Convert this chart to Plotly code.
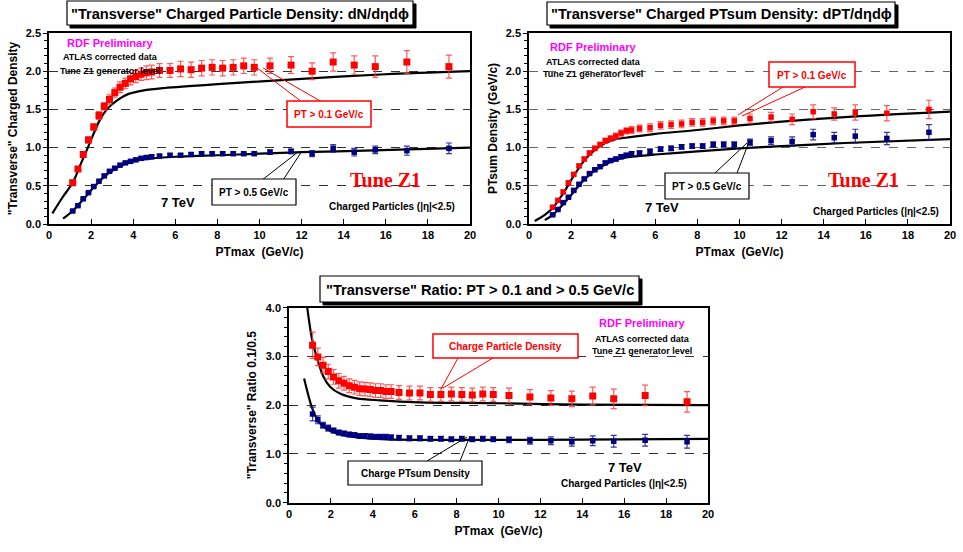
import plotly.graph_objects as go

# ---------------- DATA ----------------
pt_bins = [1.125, 1.375, 1.625, 1.875, 2.125, 2.375, 2.625, 2.875, 3.125, 3.375,
           3.625, 3.875, 4.125, 4.375, 4.625, 4.875,
           5.25, 5.75, 6.25, 6.75, 7.25, 7.75, 8.25, 8.75, 9.25, 9.75,
           10.5, 11.5, 12.5, 13.5, 14.5, 15.5, 17.0, 19.0]

# dN/deta dphi, PT > 0.1
dens01 = [0.54, 0.72, 0.91, 1.10, 1.27, 1.42, 1.54, 1.63, 1.72, 1.79,
          1.84, 1.90, 1.93, 1.96, 1.98, 1.99,
          2.01, 2.01, 2.03, 2.02, 2.04, 2.05, 2.04, 2.05, 2.07, 2.05,
          2.07, 2.08, 2.00, 2.12, 2.08, 2.06, 2.12, 2.06]
dens01_err = [0.03, 0.03, 0.03, 0.04, 0.04, 0.05, 0.05, 0.06, 0.06, 0.07,
              0.07, 0.08, 0.08, 0.08, 0.09, 0.09,
              0.09, 0.09, 0.10, 0.10, 0.10, 0.10, 0.10, 0.10, 0.10, 0.10,
              0.10, 0.11, 0.11, 0.12, 0.12, 0.14, 0.15, 0.15]
# PT > 0.5
dens05 = [0.17, 0.24, 0.33, 0.41, 0.49, 0.56, 0.63, 0.69, 0.73, 0.77,
          0.80, 0.82, 0.84, 0.86, 0.87, 0.88,
          0.89, 0.90, 0.90, 0.91, 0.92, 0.92, 0.92, 0.92, 0.92, 0.92,
          0.94, 0.95, 0.92, 0.99, 0.94, 0.97, 0.96, 0.99]
dens05_err = [0.01, 0.01, 0.01, 0.01, 0.01, 0.01, 0.015, 0.015, 0.015, 0.015,
              0.015, 0.015, 0.02, 0.02, 0.02, 0.02,
              0.02, 0.02, 0.02, 0.02, 0.02, 0.02, 0.02, 0.02, 0.02, 0.02,
              0.03, 0.03, 0.04, 0.05, 0.05, 0.05, 0.06, 0.07]

# dPT/deta dphi, PT > 0.1
ptsum01 = [0.22, 0.31, 0.42, 0.54, 0.65, 0.76, 0.85, 0.93, 0.99, 1.04,
           1.09, 1.12, 1.15, 1.19, 1.22, 1.23,
           1.25, 1.26, 1.29, 1.30, 1.31, 1.33, 1.33, 1.35, 1.35, 1.35,
           1.38, 1.40, 1.37, 1.47, 1.44, 1.46, 1.45, 1.50]
ptsum01_err = [0.01, 0.01, 0.015, 0.015, 0.02, 0.02, 0.025, 0.025, 0.03, 0.03,
               0.035, 0.035, 0.04, 0.04, 0.04, 0.045,
               0.045, 0.05, 0.05, 0.05, 0.05, 0.05, 0.05, 0.05, 0.05, 0.05,
               0.06, 0.06, 0.07, 0.09, 0.08, 0.10, 0.10, 0.12]
# PT > 0.5
ptsum05 = [0.12, 0.19, 0.28, 0.35, 0.44, 0.52, 0.59, 0.66, 0.71, 0.75,
           0.80, 0.83, 0.85, 0.88, 0.90, 0.92,
           0.93, 0.95, 0.98, 0.99, 1.01, 1.02, 1.02, 1.04, 1.04, 1.04,
           1.07, 1.09, 1.08, 1.17, 1.13, 1.15, 1.12, 1.20]
ptsum05_err = [0.01, 0.01, 0.01, 0.01, 0.015, 0.015, 0.02, 0.02, 0.02, 0.02,
               0.02, 0.02, 0.025, 0.025, 0.025, 0.025,
               0.025, 0.03, 0.03, 0.03, 0.03, 0.03, 0.03, 0.035, 0.035, 0.035,
               0.04, 0.05, 0.06, 0.07, 0.07, 0.09, 0.08, 0.10]

# ratio PT>0.1 / PT>0.5
ratio_dens = [3.23, 2.99, 2.82, 2.69, 2.58, 2.50, 2.45, 2.40, 2.37, 2.34,
              2.33, 2.32, 2.30, 2.30, 2.28, 2.28,
              2.26, 2.25, 2.25, 2.22, 2.22, 2.23, 2.22, 2.21, 2.23, 2.22,
              2.20, 2.17, 2.15, 2.13, 2.19, 2.13, 2.20, 2.07]
ratio_dens_err = [0.27, 0.18, 0.16, 0.15, 0.15, 0.15, 0.14, 0.14, 0.14, 0.14,
                  0.14, 0.14, 0.14, 0.14, 0.14, 0.14,
                  0.14, 0.14, 0.14, 0.14, 0.14, 0.14, 0.14, 0.14, 0.14, 0.14,
                  0.15, 0.15, 0.15, 0.16, 0.18, 0.20, 0.21, 0.21]
ratio_ptsum = [1.82, 1.70, 1.59, 1.53, 1.48, 1.44, 1.42, 1.40, 1.39, 1.37,
               1.37, 1.36, 1.35, 1.35, 1.35, 1.34,
               1.33, 1.32, 1.32, 1.31, 1.31, 1.30, 1.31, 1.30, 1.31, 1.30,
               1.29, 1.27, 1.27, 1.25, 1.27, 1.26, 1.28, 1.25]
ratio_ptsum_err = [0.14, 0.08, 0.06, 0.06, 0.05, 0.05, 0.05, 0.05, 0.05, 0.05,
                   0.05, 0.05, 0.05, 0.05, 0.05, 0.05,
                   0.05, 0.05, 0.05, 0.05, 0.05, 0.05, 0.05, 0.05, 0.05, 0.05,
                   0.06, 0.07, 0.08, 0.09, 0.10, 0.12, 0.12, 0.13]

# Tune Z1 generator-level curves
mc_dens01_x = [0.16, 0.67, 1.125, 1.5, 1.875, 2.375, 2.75, 3.25, 3.75, 4.5, 5.5, 8.0, 12.0, 16.0, 20.0]
mc_dens01_y = [0.14, 0.36, 0.54, 0.78, 1.02, 1.34, 1.50, 1.62, 1.70, 1.75, 1.78, 1.83, 1.90, 1.96, 2.00]
mc_dens05_x = [0.67, 1.125, 1.625, 2.125, 2.625, 3.125, 3.625, 4.125, 4.875, 6.0, 8.0, 10.0, 12.0, 15.0, 20.0]
mc_dens05_y = [0.07, 0.17, 0.32, 0.48, 0.62, 0.72, 0.79, 0.83, 0.86, 0.88, 0.90, 0.92, 0.94, 0.96, 1.00]
mc_ptsum01_x = [0.27, 0.75, 1.125, 1.625, 2.125, 2.625, 3.125, 3.625, 4.125, 4.9, 6.0, 8.0, 10.0, 12.0, 15.0, 20.0]
mc_ptsum01_y = [0.04, 0.12, 0.21, 0.40, 0.63, 0.83, 0.97, 1.06, 1.11, 1.14, 1.18, 1.23, 1.29, 1.34, 1.40, 1.47]
mc_ptsum05_x = [0.75, 1.125, 1.625, 2.125, 2.625, 3.125, 3.625, 4.125, 4.9, 6.0, 8.0, 10.0, 12.0, 15.0, 20.0]
mc_ptsum05_y = [0.05, 0.12, 0.26, 0.42, 0.58, 0.70, 0.78, 0.84, 0.88, 0.91, 0.95, 0.99, 1.02, 1.06, 1.11]
mc_ratio_dens_x = [0.87, 1.08, 1.32, 1.64, 1.96, 2.43, 3.23, 4.34, 6.25, 10.0, 14.0, 20.0]
mc_ratio_dens_y = [4.0, 3.40, 2.99, 2.59, 2.38, 2.24, 2.14, 2.10, 2.06, 2.04, 2.01, 2.00]
mc_ratio_ptsum_x = [0.72, 1.08, 1.32, 1.64, 2.28, 3.23, 4.66, 8.0, 12.0, 20.0]
mc_ratio_ptsum_y = [2.55, 1.97, 1.73, 1.56, 1.42, 1.34, 1.30, 1.29, 1.29, 1.31]

x_ticks = [0, 2, 4, 6, 8, 10, 12, 14, 16, 18, 20]

# ---------------- STYLE ----------------
W, H = 963, 552
FONT = "Liberation Sans"
RED = "#FF0000"
RED_ERR = "rgba(255,60,60,0.85)"
BLUE = "#00007F"
BLUE_ERR = "rgba(20,20,140,0.85)"


def px(x):
    return x / W


def py(y):
    return 1 - y / H


fig = go.Figure()


def add_mc(x, y, xa, ya):
    fig.add_trace(go.Scatter(x=x, y=y, mode="lines", xaxis=xa, yaxis=ya,
                             line=dict(color="black", width=2.2, shape="spline", smoothing=0.8),
                             showlegend=False, hoverinfo="skip"))


def add_data(y, err, color, ecolor, size, xa, ya):
    fig.add_trace(go.Scatter(x=pt_bins, y=y, mode="markers", xaxis=xa, yaxis=ya,
                             marker=dict(symbol="square", size=size, color=color),
                             error_y=dict(type="data", array=err, color=ecolor,
                                          thickness=1.2, width=3),
                             showlegend=False))


# panel 1
add_mc(mc_dens01_x, mc_dens01_y, "x", "y")
add_mc(mc_dens05_x, mc_dens05_y, "x", "y")
add_data(dens01, dens01_err, RED, RED_ERR, 7, "x", "y")
add_data(dens05, dens05_err, BLUE, BLUE_ERR, 5.5, "x", "y")
# panel 2
add_mc(mc_ptsum01_x, mc_ptsum01_y, "x2", "y2")
add_mc(mc_ptsum05_x, mc_ptsum05_y, "x2", "y2")
add_data(ptsum01, ptsum01_err, RED, RED_ERR, 5.5, "x2", "y2")
add_data(ptsum05, ptsum05_err, BLUE, BLUE_ERR, 5.5, "x2", "y2")
# panel 3
add_mc(mc_ratio_dens_x, mc_ratio_dens_y, "x3", "y3")
add_mc(mc_ratio_ptsum_x, mc_ratio_ptsum_y, "x3", "y3")
add_data(ratio_dens, ratio_dens_err, RED, RED_ERR, 7, "x3", "y3")
add_data(ratio_ptsum, ratio_ptsum_err, BLUE, BLUE_ERR, 5.5, "x3", "y3")

tickfont = dict(family=FONT, size=11, color="black", weight="bold")
titlefont = dict(family=FONT, size=12, color="black", weight="bold")


def xaxis(domain, anchor):
    return dict(domain=domain, anchor=anchor, range=[0, 20], tickvals=x_ticks,
                ticks="inside", ticklen=5, tickwidth=1.2, tickcolor="black",
                showline=True, linecolor="black", linewidth=1.6, mirror=True,
                showgrid=False, zeroline=False, tickfont=tickfont, automargin=False,
                title=dict(text="PTmax  (GeV/c)", font=titlefont, standoff=8))


def yaxis(domain, anchor, rng, dtick, minor_dtick, title, gridcolor):
    return dict(domain=domain, anchor=anchor, range=rng, dtick=dtick, tick0=0,
                tickformat=".1f", ticks="outside", ticklen=4, tickwidth=1.2,
                tickcolor="black", showline=True, linecolor="black", linewidth=1.6,
                mirror=True, showgrid=True, gridcolor=gridcolor, griddash="dash",
                gridwidth=1.2, zeroline=False, tickfont=tickfont, automargin=False,
                minor=dict(dtick=minor_dtick, ticks="outside", ticklen=3,
                           tickcolor="black", showgrid=False),
                title=dict(text=title, font=titlefont, standoff=6))


fig.update_layout(
    width=W, height=H, margin=dict(l=0, r=0, t=0, b=0, autoexpand=False),
    paper_bgcolor="white", plot_bgcolor="white", showlegend=False,
    xaxis=xaxis([px(49), px(470)], "y"),
    yaxis=yaxis([py(224), py(33)], "x", [0, 2.5], 0.5, 0.1,
                "\"Transverse\" Charged Density", "#333333"),
    xaxis2=xaxis([px(529), px(950)], "y2"),
    yaxis2=yaxis([py(224), py(33)], "x2", [0, 2.5], 0.5, 0.1,
                 "PTsum Density (GeV/c)", "#666666"),
    xaxis3=xaxis([px(289), px(708)], "y3"),
    yaxis3=yaxis([py(502.7), py(307.7)], "x3", [0, 4], 1.0, 0.2,
                 "\"Transverse\" Ratio 0.1/0.5", "#333333"),
)

shapes = []
annotations = []


def rect(x0, y0, x1, y1, line_color, fill="white", width=1):
    shapes.append(dict(type="rect", xref="paper", yref="paper",
                       x0=px(x0), x1=px(x1), y0=py(y1), y1=py(y0),
                       line=dict(color=line_color, width=width), fillcolor=fill, layer="above"))


def line(x0, y0, x1, y1, color):
    shapes.append(dict(type="line", xref="paper", yref="paper",
                       x0=px(x0), x1=px(x1), y0=py(y0), y1=py(y1),
                       line=dict(color=color, width=1), layer="above"))


def text(x, y, s, size, color="black", family=FONT, weight="bold", xanchor="center"):
    annotations.append(dict(x=px(x), y=py(y), xref="paper", yref="paper", text=s,
                            showarrow=False, xanchor=xanchor, yanchor="middle",
                            font=dict(family=family, size=size, color=color, weight=weight)))


def title_box(x0, y0, x1, y1, s):
    rect(x0 + 3, y0 + 3, x1 + 3, y1 + 3, "black", fill="black")
    rect(x0, y0, x1, y1, "black", fill="white", width=1.2)
    text((x0 + x1) / 2, (y0 + y1) / 2 + 1, s, 14.6)


# titles
title_box(67, 1, 413, 25, "\"Transverse\" Charged Particle Density: dN/dηdϕ")
title_box(547, 2, 895, 25, "\"Transverse\" Charged PTsum Density: dPT/dηdϕ")
title_box(320, 276, 639, 302, "\"Transverse\" Ratio: PT > 0.1 and > 0.5 GeV/c")

# panel texts
for (xc, y1, y2, y3) in [(110, 43, 57, 71), (593, 47, 62, 74)]:
    text(xc, y1, "RDF Preliminary", 11, "#FF00FF")
    text(xc, y2, "ATLAS corrected data", 9)
    text(xc, y3, "Tune Z1 generator level", 9)
text(642, 323, "RDF Preliminary", 11, "#FF00FF")
text(642, 339, "ATLAS corrected data", 9)
text(642, 351, "Tune Z1 generator level", 9)

text(178, 202, "7 TeV", 13)
text(662, 207, "7 TeV", 13)
text(625, 467, "7 TeV", 13)
text(392, 206, "Charged Particles (|η|<2.5)", 10)
text(876, 211, "Charged Particles (|η|<2.5)", 10)
text(624, 483, "Charged Particles (|η|<2.5)", 10)
text(385, 180, "Tune Z1", 20, RED, family="Liberation Serif")
text(863, 180, "Tune Z1", 20, RED, family="Liberation Serif")

# callout lines
line(257, 68, 302, 102, RED)
line(263, 68, 322, 102, RED)
line(298, 152, 262, 180, "black")
line(302, 151, 283, 180, "black")
line(738, 115, 783, 87, RED)
line(742, 116, 805, 87, RED)
line(747, 143, 715, 173, "black")
line(749, 142, 737, 173, "black")
line(441, 389, 458, 358, RED)
line(443, 388, 493, 358, RED)
line(467, 437, 427, 461, "black")
line(470, 436, 460, 461, "black")

# callout boxes
rect(287, 101, 371, 127, RED, width=1.5)
text(329, 114.5, "PT > 0.1 GeV/c", 10, RED)
rect(212, 179, 296, 205, "black", width=1.2)
text(254, 192.5, "PT > 0.5 GeV/c", 10)
rect(769, 62, 855, 87, RED, width=1.5)
text(812, 75, "PT > 0.1 GeV/c", 10, RED)
rect(665, 173, 749, 199, "black", width=1.2)
text(707, 186.5, "PT > 0.5 GeV/c", 10)
rect(433, 334, 578, 358, RED, width=1.5)
text(505.5, 346.5, "Charge Particle Density", 10, RED)
rect(348, 461, 482, 485, "black", width=1.2)
text(415, 473.5, "Charge PTsum Density", 10)

fig.update_layout(shapes=shapes, annotations=annotations)
fig.write_html("out.html", config={"displayModeBar": False},
               post_script="document.body.style.margin='0';document.body.style.padding='0';")
